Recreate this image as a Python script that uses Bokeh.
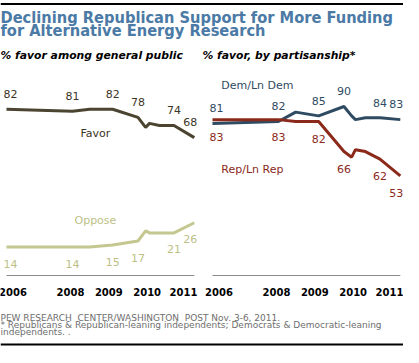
from bokeh.plotting import figure
from bokeh.models import Range1d, ColumnDataSource
from bokeh.core.properties import value
from bokeh.embed import file_html
from bokeh.resources import INLINE

# ---------------- data ----------------
survey_pos = [2006.33, 2008.05, 2008.50, 2009.10, 2009.76, 2009.96, 2010.06, 2010.32, 2010.70, 2011.23]
favor = [82, 81, 82, 82, 78, 73, 75, 74, 74, 68]
oppose = [14, 14, 14, 15, 17, 22, 21, 21, 21, 26]
dem = [81, 82, 87, 85, 90, 85, 83, 84, 84, 83]
rep = [83, 83, 82, 82, 66, 63, 67, 66, 62, 53]
labeled_idx = [0, 1, 3, 4, 8, 9]
year_ticks = [2006.5, 2008, 2009, 2010, 2011]
year_labels = ["2006", "2008", "2009", "2010", "2011"]

title_lines = ["Declining Republican Support for More Funding",
               "for Alternative Energy Research"]
subtitle_left = "% favor among general public"
subtitle_right = "% favor, by partisanship*"
footer_lines = ["PEW RESEARCH\u00a0 CENTER/WASHINGTON\u00a0 POST Nov. 3-6, 2011.",
                "* Republicans & Republican-leaning independents; Democrats & Democratic-leaning",
                "independents. ."]

# ---------------- layout constants ----------------
W, H = 403, 347
PX_YEAR = 38.33           # px per x unit
L_ORIGIN, R_ORIGIN = 70, 276   # canvas x of x=2008 in each panel
ZERO_Y = 275              # canvas y of value 0
L_PX, R_PX = 2.028, 1.878 # px per percentage point
RULE_Y = [3.5, 344.0]     # canvas y of the black rules

C_TITLE = "#4a7aa5"
C_FAVOR = "#4b4431"
C_FAVOR_TXT = "#3c3526"
C_OPPOSE = "#c4c78f"
C_OPPOSE_TXT = "#bdbf86"
C_DEM = "#2f4b62"
C_REP = "#8b2a1b"
FONT = value("DejaVu Sans")

p = figure(width=W, height=H, x_range=Range1d(0, W), y_range=Range1d(H, 0),
           x_axis_type=None, y_axis_type=None, output_backend="svg",
           toolbar_location=None, min_border=0, outline_line_color=None,
           background_fill_color="white", border_fill_color="white")
p.min_border_left = p.min_border_right = p.min_border_top = p.min_border_bottom = 0

xl = Range1d(2008 - L_ORIGIN / PX_YEAR, 2008 + (W - L_ORIGIN) / PX_YEAR)
xr = Range1d(2008 - R_ORIGIN / PX_YEAR, 2008 + (W - R_ORIGIN) / PX_YEAR)
yl = Range1d(-(H - ZERO_Y) / L_PX, ZERO_Y / L_PX)
yr = Range1d(-(H - ZERO_Y) / R_PX, ZERO_Y / R_PX)
p.extra_x_ranges = {"xl": xl, "xr": xr}
p.extra_y_ranges = {"yl": yl, "yr": yr}

# ---------------- decorations ----------------
p.multi_line(xs=[[0, W], [0, W]], ys=[[RULE_Y[0]] * 2, [RULE_Y[1]] * 2],
             line_color="#000000", line_width=2)
p.text(x=[0, 0], y=[17, 30.3], text=title_lines, text_font=value("DejaVu Sans Condensed"),
       text_font_style="bold", text_font_size="16.3px", text_color=C_TITLE,
       text_baseline="alphabetic", text_align="left")
p.text(x=[0, 202], y=[55, 55], text=[subtitle_left, subtitle_right], text_font=FONT,
       text_font_style="bold italic", text_font_size="10.8px", text_color="black",
       text_baseline="alphabetic", text_align="left")
p.text(x=[0, 0, 0], y=[317, 324.7, 331.6], text=footer_lines, text_font=FONT,
       text_font_size="9px", text_color="#6e6e6e", text_baseline="alphabetic", text_align="left")


def panel(xname, yname, series):
    # axis line
    p.segment(x0=[survey_pos[0]], y0=[0], x1=[survey_pos[-1]], y1=[0],
              x_range_name=xname, y_range_name=yname, line_color="#8a8a8a", line_width=1.2)
    # year labels
    tick_src = ColumnDataSource(dict(x=year_ticks, y=[0] * len(year_ticks), t=year_labels,
                                     dx=[0] * (len(year_ticks) - 1) + [-2]))
    p.text(x="x", y="y", text="t", source=tick_src, x_offset="dx", y_offset=16,
           x_range_name=xname, y_range_name=yname, text_font=FONT, text_font_style="bold",
           text_font_size="10px", text_color="black", text_align="center",
           text_baseline="middle")
    for vals, color, txt_color, dy in series:
        p.line(survey_pos, vals, x_range_name=xname, y_range_name=yname,
               line_color=color, line_width=3)
        n = len(labeled_idx)
        src = ColumnDataSource(dict(
            x=[survey_pos[i] for i in labeled_idx],
            y=[vals[i] for i in labeled_idx],
            t=[str(vals[i]) for i in labeled_idx],
            dx=[4] + [0] * (n - 2) + [-4],
        ))
        p.text(x="x", y="y", text="t", source=src, x_offset="dx", y_offset=dy,
               x_range_name=xname, y_range_name=yname, text_font=FONT, text_font_size="11px",
               text_color=txt_color, text_align="center", text_baseline="middle")


panel("xl", "yl", [(favor, C_FAVOR, C_FAVOR_TXT, -15.5), (oppose, C_OPPOSE, C_OPPOSE_TXT, 16.5)])
panel("xr", "yr", [(dem, C_DEM, C_DEM, -15.2), (rep, C_REP, C_REP, 17)])

# series names
p.text(x=[2008.65, 2008.65], y=[70.0, 27.3], text=["Favor", "Oppose"],
       x_range_name="xl", y_range_name="yl", text_font=FONT, text_font_size="11px",
       text_color=[C_FAVOR_TXT, C_OPPOSE_TXT], text_align="center", text_baseline="middle")
p.text(x=[2007.50, 2007.37], y=[101.0, 56.6], text=["Dem/Ln Dem", "Rep/Ln Rep"],
       x_range_name="xr", y_range_name="yr", text_font=FONT, text_font_size="11px",
       text_color=[C_DEM, C_REP], text_align="center", text_baseline="middle")

open("out.html", "w").write(file_html(p, INLINE))
